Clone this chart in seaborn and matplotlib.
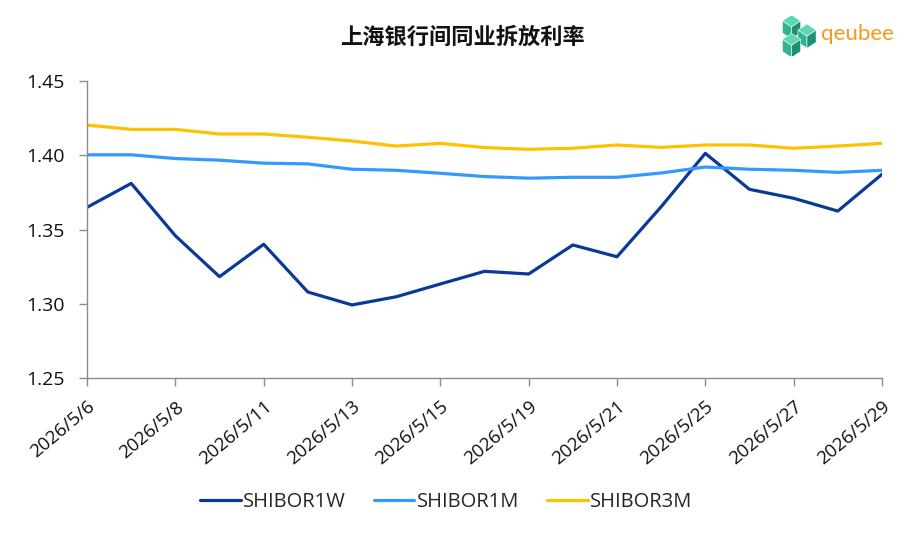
import numpy as np
import pandas as pd
import seaborn as sns
import matplotlib.pyplot as plt
from matplotlib.patches import Polygon

dates = ['2026/5/6', '2026/5/7', '2026/5/8', '2026/5/9', '2026/5/11', '2026/5/12',
         '2026/5/13', '2026/5/14', '2026/5/15', '2026/5/18', '2026/5/19', '2026/5/20',
         '2026/5/21', '2026/5/22', '2026/5/25', '2026/5/26', '2026/5/27', '2026/5/28',
         '2026/5/29']
shibor_1w = [1.3649, 1.3810, 1.3458, 1.3183, 1.3401, 1.3080, 1.2993, 1.3048, 1.3134,
             1.3219, 1.3201, 1.3396, 1.3317, 1.3653, 1.4012, 1.3770, 1.3710, 1.3624,
             1.3871]
shibor_1m = [1.4002, 1.4002, 1.3977, 1.3966, 1.3946, 1.3941, 1.3905, 1.3898, 1.3878,
             1.3856, 1.3845, 1.3851, 1.3851, 1.3880, 1.3920, 1.3905, 1.3898, 1.3884,
             1.3898]
shibor_3m = [1.4202, 1.4173, 1.4173, 1.4142, 1.4142, 1.4120, 1.4095, 1.4061, 1.4079,
             1.4051, 1.4039, 1.4046, 1.4068, 1.4052, 1.4068, 1.4068, 1.4046, 1.4061,
             1.4079]
series_names = ['SHIBOR1W', 'SHIBOR1M', 'SHIBOR3M']
colors = ['#0A3A96', '#3399FF', '#FFC000']
y_ticks = [1.25, 1.30, 1.35, 1.40, 1.45]

df = pd.DataFrame({'idx': np.arange(len(dates)),
                   'SHIBOR1W': shibor_1w, 'SHIBOR1M': shibor_1m, 'SHIBOR3M': shibor_3m})
long_df = df.melt(id_vars='idx', var_name='series', value_name='rate')

sns.set_theme(style='white')
plt.rcParams['font.family'] = ['Open Sans', 'Noto Sans CJK SC', 'DejaVu Sans']

fig = plt.figure(figsize=(9.24, 5.36), dpi=100)
ax = fig.add_axes([0.0942, 0.2942, 0.8603, 0.5552])

sns.lineplot(data=long_df, x='idx', y='rate', hue='series', hue_order=series_names,
             palette=colors, linewidth=2.3, ax=ax, legend=True)

ax.set_xlim(0, len(dates) - 1)
ax.set_ylim(1.25, 1.45)
ax.set_yticks(y_ticks)
ax.set_yticklabels([f'{v:.2f}' for v in y_ticks], fontsize=14, color='#111111')
tick_idx = list(range(0, len(dates), 2))
ax.set_xticks(tick_idx)
ax.set_xticklabels([dates[i] for i in tick_idx], rotation=40, ha='right',
                   rotation_mode='anchor', fontsize=13.5, color='#111111')
ax.set_xlabel('')
ax.set_ylabel('')
for s in ['top', 'right']:
    ax.spines[s].set_visible(False)
for s in ['left', 'bottom']:
    ax.spines[s].set_color('#8c8c8c')
    ax.spines[s].set_linewidth(1.0)
ax.tick_params(axis='both', which='both', direction='out', length=6, width=1,
               color='#8c8c8c', left=True, bottom=True)
ax.tick_params(axis='y', pad=10)
ax.tick_params(axis='x', pad=8)

handles, labels = ax.get_legend_handles_labels()
ax.get_legend().remove()
fig.legend(handles, labels, loc='center', bbox_to_anchor=(0.483, 1 - 502 / 536),
           ncol=3, frameon=False, fontsize=14.5, handlelength=2.0, handletextpad=0.12,
           columnspacing=1.4)

fig.text(0.5, 0.931, '上海银行间同业拆放利率', ha='center', va='center', fontsize=16,
         fontweight='bold', family=['Noto Sans CJK SC'], color='#111111')

# logo
logo_ax = fig.add_axes([0.846, 0.895, 0.038, 0.075])
logo_ax.set_xlim(0, 10)
logo_ax.set_ylim(0, 10)
logo_ax.axis('off')
greens = ['#5fd6b4', '#2fb390', '#1f8f73']
def cube(cx, cy, r):
    top = [(cx, cy), (cx - r, cy + r * 0.58), (cx, cy + r * 1.16), (cx + r, cy + r * 0.58)]
    left = [(cx, cy), (cx - r, cy + r * 0.58), (cx - r, cy - r * 0.58), (cx, cy - r * 1.16)]
    right = [(cx, cy), (cx + r, cy + r * 0.58), (cx + r, cy - r * 0.58), (cx, cy - r * 1.16)]
    for pts, c in zip([top, left, right], greens):
        logo_ax.add_patch(Polygon(pts, closed=True, facecolor=c, edgecolor='white', lw=0.4))
cube(2.8, 7.3, 2.6)
cube(7.2, 5.0, 2.6)
cube(2.8, 2.7, 2.6)
fig.text(0.889, 0.936, 'qeubee', ha='left', va='center', fontsize=16, color='#F39A1E',
         family=['Lato'])

fig.savefig('out.png', dpi=100)
